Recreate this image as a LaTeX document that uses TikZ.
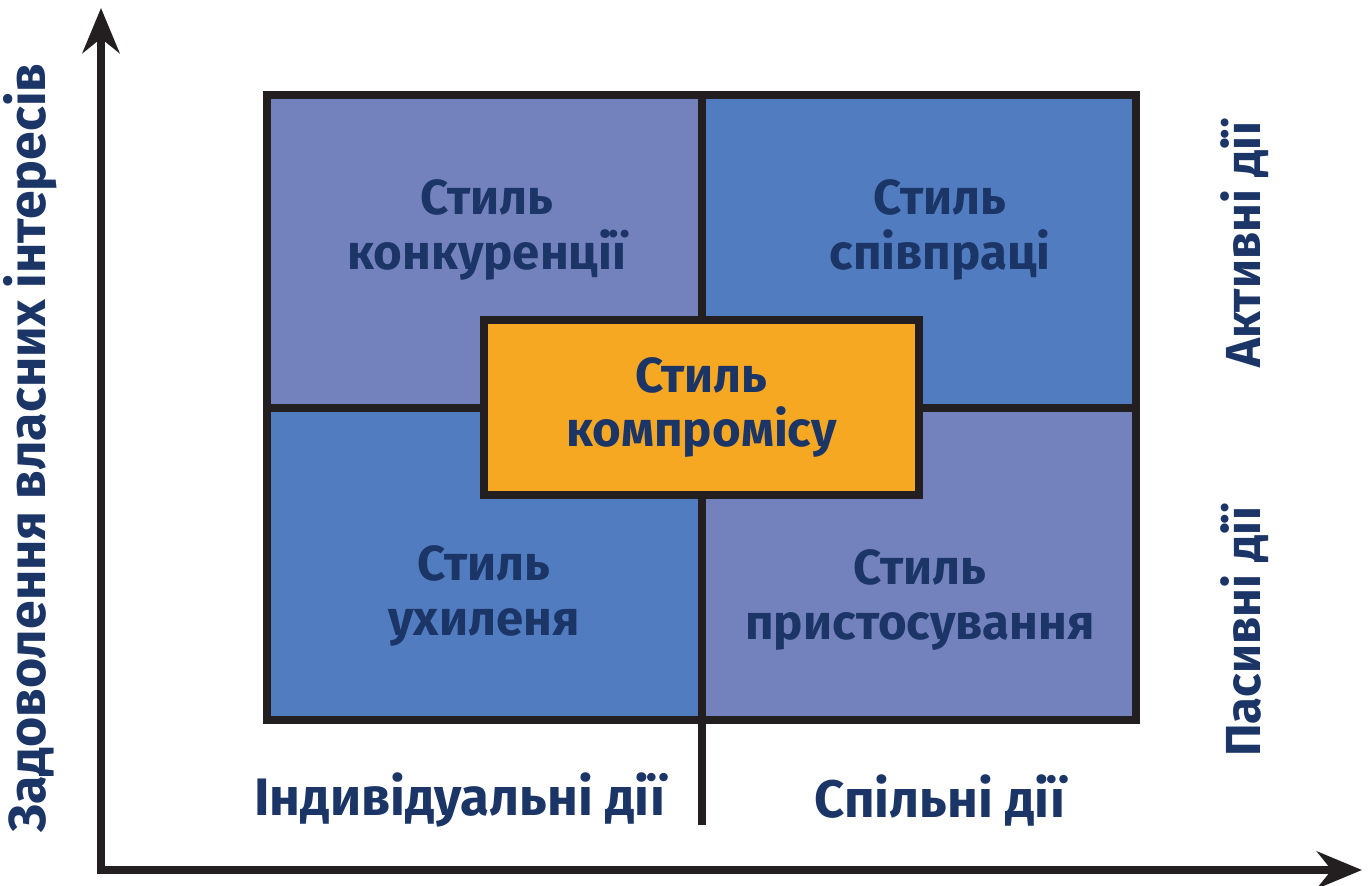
\documentclass[tikz,border=0pt]{standalone}
\usepackage{fontspec}
\setmainfont{Fira Sans}
\usetikzlibrary{arrows.meta,positioning}
\definecolor{violetblue}{HTML}{7382BD}
\definecolor{midblue}{HTML}{527CC0}
\definecolor{orangebox}{HTML}{F7A823}
\definecolor{navytext}{HTML}{1B3567}
\definecolor{inkline}{HTML}{231F20}

\begin{document}
\begin{tikzpicture}[
  x=0.02cm, y=-0.02cm,
  quad/.style={rectangle, draw=inkline, line width=0.16cm, minimum width=8.7cm, minimum height=6.26cm, inner sep=0pt, outer sep=0pt},
  lbl/.style={text=navytext, font=\bfseries\fontsize{28}{31}\selectfont, align=center},
  axis/.style={line width=0.16cm, draw=inkline}
]
\useasboundingbox (0,0) rectangle (1370,886);

% осі
\coordinate (O) at (101,870);
\coordinate (ytip) at (101,8);
\coordinate (xtip) at (1362,870);
\draw[axis, {Stealth[length=0.9cm, width=0.74cm]}-{Stealth[length=0.9cm, width=0.74cm]}] (ytip) |- (xtip);

% квадранти
\node[quad, fill=violetblue] (tl) at (484.5,251.5) {};
\node[quad, fill=midblue] (tr) at (919,251.5) {};
\node[quad, fill=midblue] (bl) at (484.5,564) {};
\node[quad, fill=violetblue] (br) at (919,564) {};

% роздільник внизу
\coordinate (split) at (bl.south east |- 0,825);
\draw[axis] (bl.south east) -- (split);

% центр
\node[quad, fill=orangebox, minimum height=3.5cm, lbl] (mid) at (701.5,407.5) {Стиль\\компромісу};

% підписи
\node[lbl] (tltext) at (487,230) {Стиль\\конкуренції};
\node[lbl] (trtext) at (940,230) {Стиль\\співпраці};
\node[lbl] (bltext) at (484,596) {Стиль\\ухиленя};
\node[lbl] (brtext) at (920,600) {Стиль\\пристосування};

\node[lbl, font=\bfseries\fontsize{30}{33}\selectfont] (indiv) at (460,800) {Індивідуальні дії};
\node[lbl, font=\bfseries\fontsize{30}{33}\selectfont] (joint) at (940,800) {Спільні дії};
\node[lbl, rotate=90] (active) at (1245,245) {Активні дії};
\node[lbl, rotate=90] (passive) at (1245,632) {Пасивні дії};
\node[lbl, rotate=90, font=\bfseries\fontsize{29.5}{33}\selectfont] (yaxis) at (30,448) {Задоволення власних інтересів};

\end{tikzpicture}
\end{document}
